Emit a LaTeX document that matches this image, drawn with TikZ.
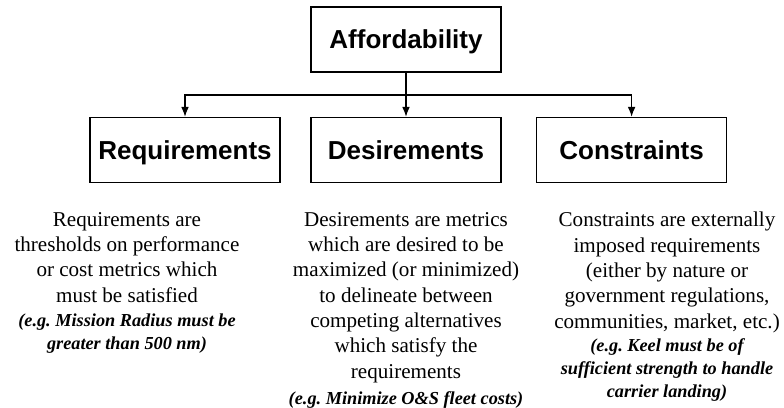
\documentclass[tikz,border=0pt]{standalone}
\usepackage{fontspec}
\setmainfont{Liberation Serif}
\newfontfamily\helvbold{Liberation Sans}[BoldFont={Liberation Sans Bold}]
\usetikzlibrary{arrows.meta, positioning}
\frenchspacing

\begin{document}
\begin{tikzpicture}[>={Latex[length=7pt,width=5.5pt]},
    catbox/.style={rectangle, draw, line width=1pt, minimum width=4.75cm, minimum height=1.625cm, inner sep=0pt, text height=13.3pt, text depth=0pt, font=\helvbold\bfseries\fontsize{18.5}{22}\selectfont},
    desc/.style={align=center, anchor=north, inner sep=0pt, font=\fontsize{15}{18}\selectfont},
    eg/.style={align=center, anchor=north, inner sep=0pt, font=\fontsize{13}{16.5}\selectfont\bfseries\itshape}]
    \useasboundingbox (0, 0) rectangle (19.6, 10.2);

    % Top node
    \node[catbox] (afford) at (10.15, 9.21) {Affordability};

    % Three categories
    \node[catbox] (req) at (4.625, 6.45) {Requirements};
    \node[catbox] (des) at (10.15, 6.45) {Desirements};
    \node[catbox] (con) at (15.79, 6.45) {Constraints};

    \coordinate (junc) at (10.15, 7.825);
    \draw[line width=0.9pt] (afford) -- (junc);
    \draw[->, line width=0.9pt] (junc) -| (req);
    \draw[->, line width=0.9pt] (junc) -- (des);
    \draw[->, line width=0.9pt] (junc) -| (con);

    % Descriptions
    \node[desc] (reqtext) at (3.175, 4.9) {Requirements are\\thresholds on performance\\or cost metrics which\\must be satisfied};
    \node[eg] (reqeg) at (3.175, 2.36) {(e.g. Mission Radius must be\\greater than 500 nm)};

    \node[desc] (destext) at (10.15, 4.9) {Desirements are metrics\\which are desired to be\\maximized (or minimized)\\to delineate between\\competing alternatives\\which satisfy the\\requirements};
    \node[eg] (deseg) at (10.15, 0.41) {(e.g. Minimize O\&S fleet costs)};

    \node[desc] (context) at (16.675, 4.9) {Constraints are externally\\imposed requirements\\(either by nature or\\government regulations,\\communities, market, etc.)};
    \node[eg] (coneg) at (16.675, 1.74) {(e.g. Keel must be of\\sufficient strength to handle\\carrier landing)};
\end{tikzpicture}
\end{document}
